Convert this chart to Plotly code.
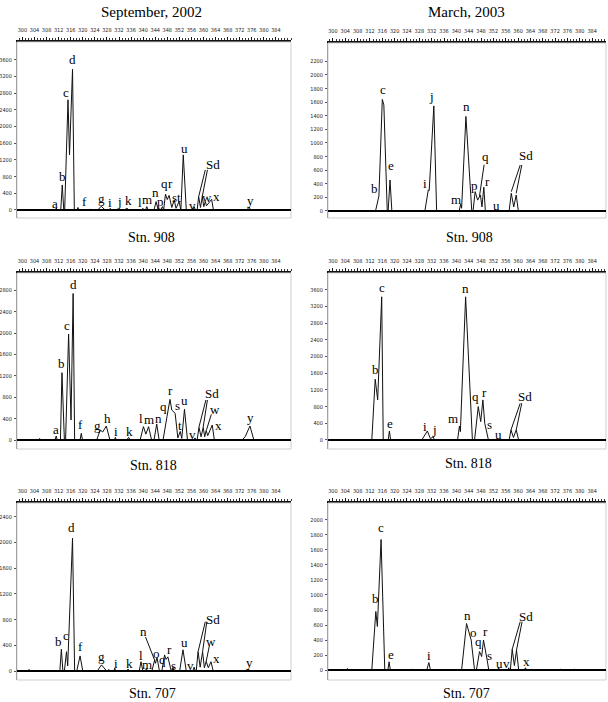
import plotly.graph_objects as go

W, H = 608, 702

# ---- September 2002, Stn. 908 ----
sep908_rt = [298, 311.0, 311.2, 311.4, 312.7, 313.2, 313.7, 314.0, 315.1, 315.6, 316.6, 317.2,
             318.1, 318.4, 318.7, 322.3, 322.5, 322.7, 325.0, 326.1, 327.4, 328.8, 329.1, 329.4,
             331.8, 332.1, 332.4, 333.8, 334.6, 335.4, 339.6, 339.9, 340.2, 340.8, 341.2, 341.7,
             343.6, 344.3, 345.0, 345.8, 346.4, 346.8, 347.4, 348.0, 348.6, 349.5, 350.3, 350.9,
             351.9, 352.5, 353.3, 354.3, 356.4, 356.9, 357.3, 357.9, 358.4, 359.0, 359.6, 360.1,
             360.6, 361.0, 362.7, 363.3, 370.3, 370.5, 370.7, 374.4, 375.1, 375.6, 389]
sep908_int = [0, 0, 50, 0, 0, 600, 0, 0, 2640, 1320, 3370, 0,
              0, 60, 0, 0, 25, 0, 0, 90, 0, 0, 40, 0,
              0, 30, 0, 0, 40, 0, 0, 40, 0, 0, 80, 0,
              0, 200, 0, 0, 80, 0, 380, 250, 350, 60, 240, 40,
              200, 0, 1320, 0, 0, 80, 0, 0, 320, 60, 320, 80,
              200, 100, 255, 0, 0, 20, 0, 0, 70, 0, 0]
sep908_lbl = ['a', 'b', 'c', 'd', 'f', 'g', 'i', 'j', 'k', 'l', 'm', 'n', 'p', 'q', 'r',
              's', 't', 'u', 'v', 'Sd', 'w', 'x', 'y']
sep908_lx = [310.9, 313.2, 314.6, 316.5, 320.5, 326.1, 329.1, 332.1, 335.1, 339.0, 341.3, 344.0,
             345.6, 347.0, 349.2, 350.3, 352.0, 353.6, 356.5, 363.2, 361.2, 364.2, 375.7]
sep908_ly = [144, 814, 2826, 3616, 192, 287, 168, 192, 216, 168, 240, 407, 192, 623, 623,
             311, 311, 1461, 96, 1078, 311, 335, 216]
sep908_lead = [(360.6, 960, 358.4, 320), (361.3, 960, 359.6, 320)]

# ---- March 2003, Stn. 908 ----
mar908_rt = [298.4, 301.3, 301.5, 301.7, 304.3, 304.5, 304.7, 313.8, 314.9, 316.0, 316.5, 317.6,
             317.9, 318.5, 319.1, 329.8, 330.9, 331.2, 332.7, 333.6, 340.9, 341.4, 341.7, 343.1,
             345.0, 345.4, 346.1, 346.9, 347.8, 348.3, 348.9, 349.4, 352.2, 352.5, 352.8, 357.1,
             357.8, 358.6, 359.4, 360.1, 371.2, 371.5, 371.8, 388.5]
mar908_int = [0, 0, 15, 0, 0, 15, 0, 0, 220, 1640, 1560, 0,
              0, 456, 0, 0, 310, 300, 1545, 0, 0, 100, 40, 1390,
              0, 0, 285, 160, 235, 60, 350, 0, 0, 20, 0, 0,
              260, 60, 235, 0, 0, 15, 0, 0]
mar908_lbl = ['b', 'c', 'e', 'i', 'j', 'm', 'n', 'p', 'q', 'r', 'u', 'Sd']
mar908_lx = [313.4, 316.1, 318.7, 329.9, 332.1, 339.9, 343.4, 345.8, 349.3, 350.0, 352.9, 362.6]
mar908_ly = [334, 1793, 676, 407, 1690, 162, 1533, 382, 798, 431, 74, 809]
mar908_lead = [(349.0, 680, 347.5, 220), (360.7, 676, 357.8, 284), (361.2, 676, 359.4, 260)]

# ---- September 2002, Stn. 818 ----
sep818_rt = [298, 305.5, 305.7, 305.9, 310.8, 311.2, 311.5, 312.6, 313.1, 313.9, 314.3, 315.3,
             316.1, 316.8, 317.3, 319.1, 319.5, 319.9, 324.6, 325.8, 326.6, 327.8, 329.0, 330.5,
             330.8, 331.1, 334.6, 335.2, 335.7, 339.0, 340.1, 340.9, 341.8, 342.8, 343.6, 344.5,
             345.3, 346.6, 347.9, 348.9, 349.5, 350.6, 351.5, 352.3, 352.8, 353.7, 354.7, 356.8,
             357.2, 357.5, 357.9, 358.5, 359.2, 359.9, 360.4, 360.9, 361.4, 362.9, 363.6, 372.8,
             373.8, 375.4, 376.7, 389]
sep818_int = [0, 0, 30, 0, 0, 75, 0, 0, 1260, 0, 0, 1980,
              375, 2740, 0, 0, 125, 0, 0, 187, 150, 262, 0, 0,
              50, 0, 0, 50, 0, 0, 250, 110, 250, 0, 0, 300,
              0, 0, 436, 760, 560, 500, 40, 160, 30, 575, 0, 0,
              40, 0, 0, 237, 60, 237, 60, 180, 80, 280, 0, 0,
              60, 262, 0, 0]
sep818_lbl = ['a', 'b', 'c', 'd', 'f', 'g', 'h', 'i', 'k', 'l', 'm', 'n', 'q', 'r', 's', 't',
              'u', 'v', 'Sd', 'w', 'x', 'y']
sep818_lx = [311.1, 312.8, 314.8, 316.9, 319.2, 325.0, 328.3, 331.0, 335.5, 339.4, 342.1, 345.0,
             346.7, 349.2, 351.4, 352.2, 353.7, 356.4, 362.8, 363.8, 365.1, 375.6]
sep818_ly = [200, 1434, 2132, 2899, 299, 262, 406, 168, 168, 406, 387, 395, 620, 922, 640, 280,
             735, 112, 873, 574, 262, 417]
sep818_lead = [(360.8, 748, 358.5, 243), (361.3, 748, 359.9, 243), (362.6, 480, 361.0, 190)]

# ---- March 2003, Stn. 818 ----
mar818_rt = [298.4, 312.6, 313.7, 314.5, 315.8, 316.3, 317.9, 318.3, 318.7, 324.8, 325.0, 325.2,
             328.8, 330.6, 331.6, 332.5, 332.9, 340.4, 341.0, 341.3, 343.0, 345.2, 345.9, 347.1,
             347.9, 348.6, 349.2, 349.6, 350.4, 351.8, 352.0, 352.3, 353.1, 353.3, 353.5, 357.1,
             357.7, 358.5, 359.4, 360.2, 388.5]
mar818_int = [0, 0, 1455, 960, 3430, 0, 0, 215, 0, 0, 20, 0,
              0, 215, 30, 80, 0, 0, 335, 200, 3430, 0, 0, 800,
              440, 960, 400, 240, 0, 0, 25, 0, 0, 30, 0, 0,
              240, 60, 240, 0, 0]
mar818_lbl = ['b', 'c', 'e', 'i', 'j', 'm', 'n', 'q', 'r', 's', 'u', 'Sd']
mar818_lx = [313.7, 315.8, 318.5, 329.8, 332.9, 339.0, 343.0, 346.3, 349.1, 350.7, 353.6, 362.4]
mar818_ly = [1677, 3657, 383, 319, 240, 520, 3633, 1037, 1133, 359, 120, 1037]
mar818_lead = [(360.7, 880, 357.7, 240), (361.2, 880, 359.4, 240)]

# ---- September 2002, Stn. 707 ----
sep707_rt = [298, 302.0, 302.2, 302.4, 312.4, 312.9, 313.4, 313.9, 314.6, 315.0, 316.6, 317.3,
             318.0, 319.1, 320.0, 324.8, 326.2, 327.9, 328.4, 328.6, 328.8, 330.3, 330.6, 330.9,
             334.5, 335.0, 335.5, 338.7, 339.3, 339.9, 340.7, 341.1, 341.4, 342.9, 343.8, 344.1,
             344.6, 345.4, 346.2, 347.1, 347.6, 348.2, 349.3, 349.6, 349.9, 350.2, 352.1, 353.2,
             354.3, 356.5, 356.9, 357.3, 357.6, 358.2, 358.9, 359.7, 360.3, 360.9, 361.6, 362.5,
             363.2, 374.4, 374.9, 375.3, 378.5, 378.7, 378.9, 389]
sep707_int = [0, 0, 25, 0, 0, 340, 0, 0, 300, 80, 2065, 0,
              0, 235, 0, 0, 95, 0, 0, 25, 0, 0, 45, 0,
              0, 30, 0, 0, 145, 0, 0, 40, 0, 0, 170, 120,
              210, 0, 0, 250, 180, 220, 0, 0, 60, 0, 0, 330,
              0, 0, 60, 0, 0, 300, 60, 300, 50, 150, 50, 145,
              0, 0, 30, 0, 0, 15, 0, 0]
sep707_lbl = ['b', 'c', 'd', 'f', 'g', 'i', 'k', 'l', 'm', 'n', 'o', 'q', 'r', 's', 'u', 'v',
              'Sd', 'w', 'x', 'y']
sep707_lx = [312.1, 314.6, 316.3, 319.1, 326.2, 330.9, 335.5, 339.3, 341.3, 340.0, 344.3, 346.5,
             348.8, 350.1, 353.7, 355.6, 363.1, 362.5, 364.4, 375.2]
sep707_ly = [456, 560, 2236, 378, 233, 120, 120, 249, 109, 612, 275, 182, 338, 93, 440, 78,
             794, 456, 198, 129]
sep707_lead = [(340.8, 529, 343.8, 170), (360.6, 767, 358.2, 300), (361.1, 767, 359.7, 300),
               (362.0, 405, 360.9, 150)]

# ---- March 2003, Stn. 707 ----
mar707_rt = [298.4, 304.5, 304.7, 304.9, 312.6, 313.9, 314.4, 315.6, 316.8, 317.8, 318.2, 318.6,
             325.3, 325.5, 325.7, 330.4, 331.1, 331.6, 341.7, 343.3, 344.8, 345.9, 346.5, 347.5,
             348.2, 348.8, 350.0, 350.5, 353.4, 353.7, 354.0, 356.7, 357.0, 357.2, 357.5, 358.1,
             358.8, 359.5, 360.2, 362.0, 362.4, 362.8, 373.6, 373.8, 374.0, 378.0, 378.2, 378.4,
             388.5]
mar707_int = [0, 0, 20, 0, 0, 780, 580, 1740, 0, 0, 110, 0,
              0, 15, 0, 0, 100, 0, 0, 620, 400, 0, 0, 245,
              180, 400, 130, 0, 0, 30, 0, 0, 30, 0, 0, 275,
              60, 265, 0, 0, 30, 0, 0, 15, 0, 0, 15, 0,
              0]
mar707_lbl = ['b', 'c', 'e', 'i', 'n', 'o', 'q', 'r', 's', 'u', 'v', 'Sd', 'x']
mar707_lx = [313.9, 315.6, 318.7, 331.1, 343.5, 345.5, 347.1, 349.4, 350.8, 354.0, 356.1, 362.7,
             362.7]
mar707_ly = [956, 1902, 213, 200, 733, 497, 377, 511, 187, 93, 93, 710, 111]
mar707_lead = [(360.7, 644, 358.1, 276), (361.3, 644, 359.5, 266)]

x_ticks = list(range(300, 388, 4))

# panel layout: (data, pixel box left/right/top/bottom, x range, y range, y ticks)
panels = [
    (sep908_rt, sep908_int, sep908_lbl, sep908_lx, sep908_ly, sep908_lead,
     (17, 291, 42, 218), [298.2, 389], [-192, 4024], list(range(0, 3601, 400))),
    (mar908_rt, mar908_int, mar908_lbl, mar908_lx, mar908_ly, mar908_lead,
     (328, 606, 43, 218), [298.4, 388.5], [-103, 2470], list(range(0, 2201, 200))),
    (sep818_rt, sep818_int, sep818_lbl, sep818_lx, sep818_ly, sep818_lead,
     (17, 291, 273, 449), [298.2, 389], [-168, 3123], list(range(0, 2801, 400))),
    (mar818_rt, mar818_int, mar818_lbl, mar818_lx, mar818_ly, mar818_lead,
     (328, 606, 273, 449), [298.4, 388.5], [-216, 4000], list(range(0, 3601, 400))),
    (sep707_rt, sep707_int, sep707_lbl, sep707_lx, sep707_ly, sep707_lead,
     (17, 291, 503, 680), [298.2, 389], [-140, 2614], list(range(0, 2401, 400))),
    (mar707_rt, mar707_int, mar707_lbl, mar707_lx, mar707_ly, mar707_lead,
     (328, 606, 503, 680), [298.4, 388.5], [-133, 2226], list(range(0, 2001, 200))),
]

tick_font = dict(family='Liberation Sans Narrow, Arial Narrow, DejaVu Sans Condensed', size=5.5,
                 color='#222')
serif = 'Liberation Serif, Times New Roman, serif'

fig = go.Figure()
shapes = []
annotations = []
layout = {}

for i, (rt, inten, lbl, lx, ly, lead, box, xr, yr, yt) in enumerate(panels, start=1):
    sx = '' if i == 1 else str(i)
    xa, ya = 'x' + sx, 'y' + sx
    left, right, top, bottom = box
    fig.add_trace(go.Scatter(x=rt, y=inten, mode='lines', xaxis=xa, yaxis=ya,
                             line=dict(color='#111', width=1), showlegend=False,
                             hoverinfo='skip'))
    layout['xaxis' + sx] = dict(
        domain=[left / W, right / W], range=xr, anchor=ya, side='top',
        tickmode='array', tickvals=x_ticks, tickangle=0, ticks='outside', ticklen=3,
        tickwidth=1, tickcolor='#111', showline=True, linecolor='#111', linewidth=1.5,
        showgrid=False, zeroline=False, tickfont=tick_font, ticklabelstandoff=3,
        minor=dict(tickmode='linear', tick0=298, dtick=1, ticks='outside',
                   ticklen=2, tickcolor='#333'))
    layout['yaxis' + sx] = dict(
        domain=[1 - bottom / H, 1 - top / H], range=yr, anchor=xa,
        tickmode='array', tickvals=yt, ticks='outside', ticklen=2, tickcolor='#555',
        showline=True, linecolor='#777', linewidth=1, showgrid=False, zeroline=False,
        tickfont=tick_font, ticklabelstandoff=1)
    # light frame around the plotting area
    shapes.append(dict(type='rect', xref=xa + ' domain', yref=ya + ' domain',
                       x0=0, x1=1, y0=0, y1=1, line=dict(color='#cfcfcf', width=1)))
    # thick baseline
    shapes.append(dict(type='line', xref=xa + ' domain', yref=ya,
                       x0=0, x1=1, y0=0, y1=0, line=dict(color='#000', width=2)))
    for (x0, y0, x1, y1) in lead:
        shapes.append(dict(type='line', xref=xa, yref=ya, x0=x0, y0=y0, x1=x1, y1=y1,
                           line=dict(color='#111', width=1)))
    for name, x, y in zip(lbl, lx, ly):
        annotations.append(dict(xref=xa, yref=ya, x=x, y=y, text=name, showarrow=False,
                                font=dict(family=serif, size=13, color='#000'),
                                xanchor='center', yanchor='middle'))

titles = [('September, 2002', 151, 12, 15), ('March, 2003', 466, 12, 15),
          ('Stn. 908', 151, 237, 14), ('Stn. 908', 469, 237, 14),
          ('Stn. 818', 153, 465, 14), ('Stn. 818', 468, 463, 14),
          ('Stn. 707', 152, 693, 14), ('Stn. 707', 466, 693, 14)]
for text, px, py, fs in titles:
    annotations.append(dict(xref='paper', yref='paper', x=px / W, y=1 - py / H, text=text,
                            showarrow=False, xanchor='center', yanchor='middle',
                            font=dict(family=serif, size=fs, color='#000')))

fig.update_layout(width=W, height=H, margin=dict(l=0, r=0, t=0, b=0),
                  paper_bgcolor='white', plot_bgcolor='white', template='none',
                  shapes=shapes, annotations=annotations, **layout)

# the page's default body margin would push the figure out of the window
fig.write_html("out.html", config={'displayModeBar': False},
               post_script="document.body.style.margin='0';document.body.style.overflow='hidden';")
